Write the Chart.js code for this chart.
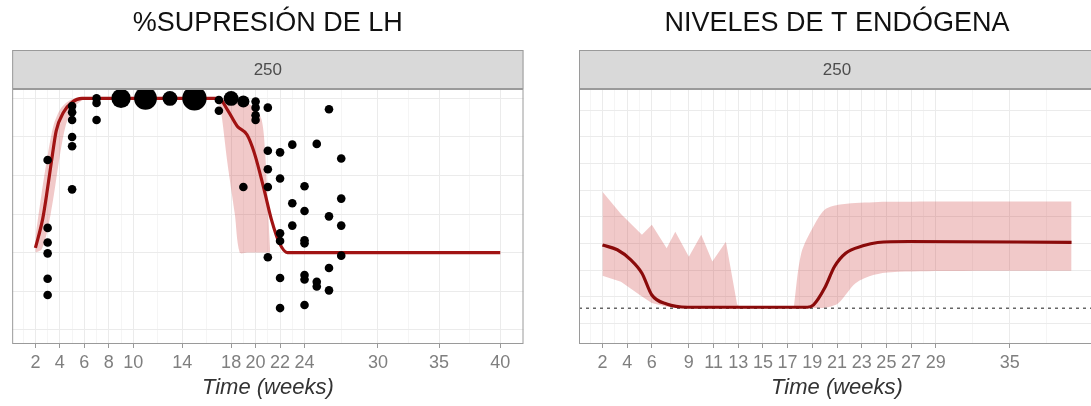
<!DOCTYPE html>
<html>
<head>
<meta charset="utf-8">
<script src="https://cdn.jsdelivr.net/npm/chart.js@4"></script>
<style>
  html, body { margin: 0; padding: 0; background: #fff; overflow: hidden; width: 1091px; height: 406px; }
  canvas { position: absolute; top: 0; }
  #lh { left: 0; }
  #t { left: 545px; }
</style>
</head>
<body>
<canvas id="lh" width="540" height="406"></canvas>
<canvas id="t" width="580" height="406"></canvas>
<script>
const stripLabel = '250';
const lhTitle = '%SUPRESIÓN DE LH';
const tTitle = 'NIVELES DE T ENDÓGENA';
const xTitle = 'Time (weeks)';

const lhTicks = [2, 4, 6, 8, 10, 14, 18, 20, 22, 24, 30, 35, 40];
const tTicks = [2, 4, 6, 9, 11, 13, 15, 17, 19, 21, 23, 25, 27, 29, 35];

// LH suppression: observed (week, value, number of overlapping obs)
const lhObsWeek = [3, 3, 3, 3, 3, 3,
  5, 5, 5, 5, 5, 5,
  7, 7, 7,
  9, 11, 13, 15,
  17, 17, 18, 19, 19,
  20, 20, 20, 20,
  21, 21, 21, 21, 21,
  22, 22, 22, 22, 22, 22,
  23, 23, 23,
  24, 24, 24, 24, 24, 24, 24,
  25, 25, 25,
  26, 26, 26, 26,
  27, 27, 27, 27];
const lhObsVal = [60, 16, 6.5, -0.5, -17, -27.5,
  95, 91, 86, 75, 69, 41,
  100, 97, 86,
  100, 100, 100, 100,
  99, 92, 100, 98, 42.5,
  98, 94, 89, 86,
  94, 66, 54, 42.5, -3,
  65, 48, 12.5, 7.5, -16.5, -36,
  70, 32, 17.5,
  43, 27, 8, 6, -14.5, -17.5, -34,
  70.5, -19, -22,
  93, 23.5, -10, -24.5,
  61, 35, 17.5, -2];
const lhObsN = [1, 1, 1, 1, 1, 1,
  1, 1, 1, 1, 1, 1,
  1, 1, 1,
  5, 7, 3, 8,
  1, 1, 3, 2, 1,
  1, 1, 1, 1,
  1, 1, 1, 1, 1,
  1, 1, 1, 1, 1, 1,
  1, 1, 1,
  1, 1, 1, 1, 1, 1, 1,
  1, 1, 1,
  1, 1, 1, 1,
  1, 1, 1, 1];

// LH model prediction and band
const lhPredWeek = [2, 2.6, 3.0, 3.4, 3.7, 4.3, 5.0, 5.8, 17.0, 17.7, 18.5, 19.3, 19.9, 20.7, 21.3, 21.95, 22.6, 40];
const lhPred = [3, 22, 42, 64, 79, 91, 97.5, 100, 100, 92.6, 82, 76.4, 64.5, 40.7, 21.2, 6.1, 0, 0];
const lhBandAWeek = [2, 2.5, 3.0, 3.5, 4.0, 4.5, 5.0, 5.5, 6.0, 6.5];
const lhBandAHi = [10, 38, 63, 83, 92.5, 97, 99.5, 100, 100, 100];
const lhBandALo = [0, 2, 15, 37, 63, 83, 92.5, 97, 99.5, 100];
const lhBandBWeek = [16.9, 17.2, 17.7, 18.3, 18.7, 19.3, 19.9, 20.5, 20.8, 21.0, 21.2];
const lhBandBHi = [100, 100, 100, 100, 99, 97, 94, 86, 62, 30, 0];
const lhBandBLo = [100, 90, 58, 25, 0, 0, 0, 0, 0, 0, 0];

// endogenous T: model prediction and band
const tPredWeek = [2, 3.2, 4.3, 5.2, 6.0, 7.2, 8.9, 18.6, 19.1, 20.0, 20.8, 21.7, 23.1, 24.3, 26.8, 40];
const tPred = [197, 188, 169, 144, 103, 86, 80, 80, 84.5, 116, 156.5, 181.5, 195.4, 201.6, 203.5, 202];
const tBandAWeek = [2, 3.5, 5.2, 6.0, 7.2, 7.9, 9.0, 10.0, 10.9, 12.0, 12.9, 13.1];
const tBandAHi = [297, 255, 216, 235, 191, 222, 175, 216, 166, 203, 86, 80];
const tBandALo = [139, 128, 100, 88, 81, 80, 80, 80, 80, 80, 80, 80];
const tBandBWeek = [17.5, 18.1, 19.1, 20.0, 21.1, 22.5, 24.0, 25.4, 30, 40];
const tBandBHi = [80, 181, 232, 263, 272.5, 276, 277.4, 278, 278.5, 278.7];
const tBandBLo = [80, 79, 78.5, 79, 87.6, 125, 141, 146, 148, 148.4];
const tLimit = 78;

const FONT = '"Liberation Sans", Arial, sans-serif';
const PINK = 'rgba(200, 40, 40, 0.25)';

const pts = (xs, ys) => xs.map((x, i) => ({ x: x, y: ys[i] }));

function minorBreaks(majors) {
  const n = majors.length;
  const out = [majors[0] - (majors[1] - majors[0]) / 2];
  for (let i = 0; i < n - 1; i++) out.push((majors[i] + majors[i + 1]) / 2);
  out.push(majors[n - 1] + (majors[n - 1] - majors[n - 2]) / 2);
  return out;
}

function xScale(majors) {
  const minors = minorBreaks(majors).filter(v => v > 0.1 && v < 41.9);
  return {
    type: 'linear',
    min: 0.1,
    max: 41.9,
    afterBuildTicks: s => {
      s.ticks = majors.map(v => ({ value: v })).concat(minors.map(v => ({ value: v, isMinor: true })));
    },
    afterFit: s => { s.height = 62; },
    ticks: {
      autoSkip: false, maxRotation: 0, padding: 4, color: '#7f7f7f',
      font: { family: FONT, size: 18 },
      callback: (v, i, ticks) => ticks[i].isMinor ? '' : v
    },
    grid: {
      color: c => c.tick && c.tick.isMinor ? '#f5f5f5' : '#ebebeb',
      tickColor: c => c.tick && c.tick.isMinor ? 'rgba(0,0,0,0)' : '#999',
      tickLength: 4
    },
    border: { display: false },
    title: {
      display: true, text: xTitle, color: '#333',
      font: { family: FONT, size: 22, style: 'italic' },
      padding: { top: 0, bottom: 5 }
    }
  };
}

function yScale(min, max, lines) {
  return {
    type: 'linear', min: min, max: max,
    afterBuildTicks: s => { s.ticks = lines.map(v => ({ value: v })); },
    afterFit: s => { s.width = 0; },
    ticks: { display: false },
    grid: { color: '#ebebeb', drawTicks: false },
    border: { display: false }
  };
}

const panelFrame = {
  id: 'panelFrame',
  afterDraw(chart) {
    const { ctx, chartArea: a } = chart;
    ctx.save();
    ctx.fillStyle = '#d9d9d9';
    ctx.fillRect(a.left, a.top - 39, a.right - a.left, 39);
    ctx.strokeStyle = '#9a9a9a';
    ctx.lineWidth = 1;
    ctx.strokeRect(a.left + 0.5, a.top - 38.5, a.right - a.left - 1, 38);
    ctx.strokeRect(a.left + 0.5, a.top + 0.5, a.right - a.left - 1, a.bottom - a.top - 1);
    ctx.fillStyle = '#4d4d4d';
    ctx.font = '17px ' + FONT;
    ctx.textAlign = 'center';
    ctx.textBaseline = 'middle';
    ctx.fillText(stripLabel, (a.left + a.right) / 2, a.top - 19);
    ctx.restore();
  }
};

function band(xs, hi, lo, tension) {
  return [
    { type: 'line', data: pts(xs, hi), borderColor: 'transparent', pointRadius: 0, fill: '+1', backgroundColor: PINK, tension: tension },
    { type: 'line', data: pts(xs, lo), borderColor: 'transparent', pointRadius: 0, fill: false, tension: tension }
  ];
}

function baseOptions(title, yMin, yMax, yLines, xMajors, pad) {
  return {
    responsive: false,
    animation: false,
    devicePixelRatio: 1,
    layout: { padding: pad },
    plugins: {
      legend: { display: false },
      tooltip: { enabled: false },
      title: {
        display: true, text: title, color: '#111',
        font: { family: FONT, size: 27, weight: 'normal' },
        padding: { top: 7, bottom: 49.6 }
      }
    },
    scales: {
      x: xScale(xMajors),
      y: yScale(yMin, yMax, yLines)
    }
  };
}

new Chart(document.getElementById('lh').getContext('2d'), {
  type: 'line',
  data: {
    datasets: [
      {
        type: 'scatter',
        data: pts(lhObsWeek, lhObsVal),
        pointRadius: lhObsN.map(n => 4.3 * Math.sqrt(n)),
        pointBackgroundColor: '#000',
        pointBorderWidth: 0,
        showLine: false
      },
      {
        type: 'line',
        data: pts(lhPredWeek, lhPred),
        borderColor: '#a11313',
        borderWidth: 3.2,
        pointRadius: 0,
        cubicInterpolationMode: 'monotone',
        fill: false
      },
      ...band(lhBandAWeek, lhBandAHi, lhBandALo, 0.3),
      ...band(lhBandBWeek, lhBandBHi, lhBandBLo, 0.3)
    ]
  },
  options: baseOptions(lhTitle, -59.3, 106.1, [-50, -25, 0, 25, 50, 75, 100], lhTicks, { left: 12, right: 16.5, top: 0, bottom: 0 }),
  plugins: [panelFrame]
});

new Chart(document.getElementById('t').getContext('2d'), {
  type: 'line',
  data: {
    datasets: [
      {
        type: 'line',
        data: pts(tPredWeek, tPred),
        borderColor: '#8a0a0a',
        borderWidth: 3.2,
        pointRadius: 0,
        cubicInterpolationMode: 'monotone',
        fill: false
      },
      {
        type: 'line',
        data: [{ x: 0.1, y: tLimit }, { x: 41.9, y: tLimit }],
        borderColor: '#666',
        borderWidth: 1.5,
        borderDash: [3, 4],
        pointRadius: 0,
        fill: false
      },
      ...band(tBandAWeek, tBandAHi, tBandALo, 0),
      ...band(tBandBWeek, tBandBHi, tBandBLo, 0.3)
    ]
  },
  options: baseOptions(tTitle, 11, 490, [50, 100, 150, 200, 250, 300, 350, 400, 450], tTicks, { left: 34, right: 30, top: 0, bottom: 0 }),
  plugins: [panelFrame]
});
</script>
</body>
</html>
